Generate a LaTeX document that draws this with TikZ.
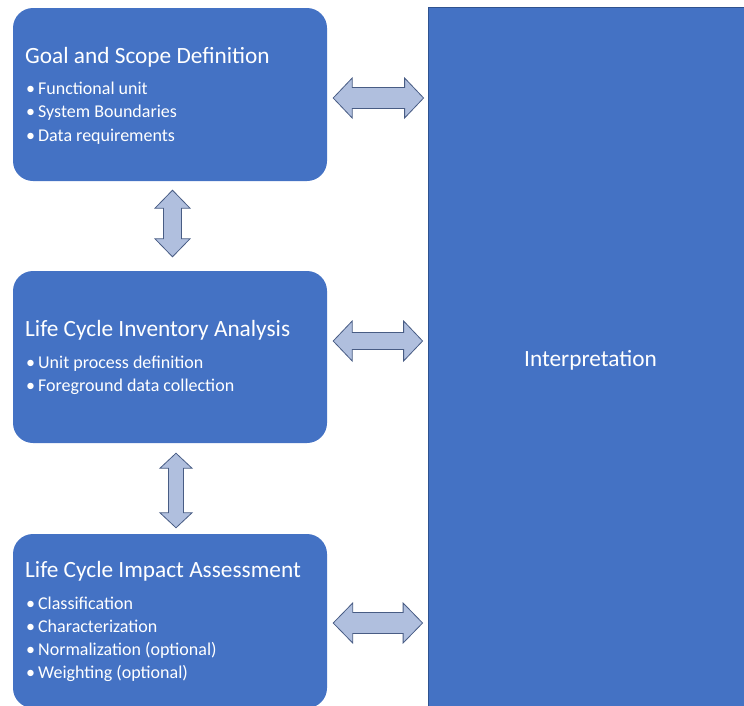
\documentclass[tikz,border=0pt]{standalone}
\usepackage{fontspec}
\setmainfont{Carlito}
\usetikzlibrary{calc}

\definecolor{boxblue}{RGB}{68,114,196}
\definecolor{edgeblue}{RGB}{47,82,143}
\definecolor{arrowfill}{RGB}{176,191,222}
\definecolor{arrowline}{RGB}{72,92,132}

% block arrow with a head at both ends: tip, tip, head length, head half width, shaft half width
\newcommand{\dblarrow}[5]{%
  \coordinate (h1) at ($(#1)!#3!(#2)$);
  \coordinate (h2) at ($(#2)!#3!(#1)$);
  \draw[blockarrow] (#1) -- ($(h1)!#4!90:(#2)$) -- ($(h1)!#5!90:(#2)$)
    -- ($(h2)!#5!-90:(#1)$) -- ($(h2)!#4!-90:(#1)$) -- (#2)
    -- ($(h2)!#4!90:(#1)$) -- ($(h2)!#5!90:(#1)$)
    -- ($(h1)!#5!-90:(#2)$) -- ($(h1)!#4!-90:(#2)$) -- cycle;
}

\begin{document}
\begin{tikzpicture}[x=1pt,y=1pt]
\tikzstyle{stage}=[fill=boxblue, rounded corners=20pt, minimum width=314pt, inner sep=0pt]
\tikzstyle{interp}=[fill=boxblue, draw=edgeblue, line width=0.8pt, inner sep=0pt]
\tikzstyle{title}=[text=white, anchor=base west, inner sep=0pt, font=\fontsize{23.3}{27}\selectfont]
\tikzstyle{item}=[text=white, anchor=base west, inner sep=0pt, font=\fontsize{18}{21}\selectfont]
\tikzstyle{blockarrow}=[fill=arrowfill, draw=arrowline, line width=0.8pt, line join=miter]
\useasboundingbox (0,0) rectangle (744,-705);

% the three stages
\node[stage, minimum height=173pt] (goal) at (170,-94.5) {};
\node[stage, minimum height=172pt] (inv) at (170,-357) {};
\node[stage, minimum height=174pt] (imp) at (170,-621) {};
\node[interp, minimum width=320pt, minimum height=703pt] (interp) at (588,-358.5) {};

\node[title] (goaltitle) at (25,-63) {Goal and Scope Definition};
\foreach \t [count=\i] in {Functional unit, System Boundaries, Data requirements}
  \node[item] (goal\i) at (26,-94.3-23.5*\i+23.5) {\textbullet\hspace{3pt}\t};

\node[title] (invtitle) at (25,-336.7) {Life Cycle Inventory Analysis};
\foreach \t [count=\i] in {Unit process definition, Foreground data collection}
  \node[item] (inv\i) at (26,-368-23.5*\i+23.5) {\textbullet\hspace{3pt}\t};

\node[title] (imptitle) at (25,-577) {Life Cycle Impact Assessment};
\foreach \t [count=\i] in {Classification, Characterization, Normalization (optional), Weighting (optional)}
  \node[item] (imp\i) at (26,-609-23.2*\i+23.2) {\textbullet\hspace{3pt}\t};

\node[title, anchor=base] (interptitle) at (590.5,-366) {Interpretation};

% arrows between the stages
\coordinate (a1l) at ($(goal.east)+(6,-3.5)$);
\coordinate (a1r) at ($(interp.west |- a1l)+(-4,0)$);
\coordinate (a2l) at ($(inv.east)+(6,16)$);
\coordinate (a2r) at ($(interp.west |- a2l)+(-5,0)$);
\coordinate (a3l) at ($(imp.east)+(6,-2)$);
\coordinate (a3r) at ($(interp.west |- a3l)+(-5,0)$);
\coordinate (v1t) at ($(goal.south)+(2.5,-9)$);
\coordinate (v1b) at ($(inv.north)+(2.5,14)$);
\coordinate (v2t) at ($(inv.south)+(6,-10)$);
\coordinate (v2b) at ($(imp.north)+(6,6)$);

\dblarrow{a1l}{a1r}{19pt}{20pt}{10.5pt}
\dblarrow{a2l}{a2r}{19pt}{20pt}{8.5pt}
\dblarrow{a3l}{a3r}{19.5pt}{20pt}{10.5pt}
\dblarrow{v1t}{v1b}{18pt}{17.5pt}{9pt}
\dblarrow{v2t}{v2b}{15pt}{16pt}{7.5pt}
\end{tikzpicture}
\end{document}
